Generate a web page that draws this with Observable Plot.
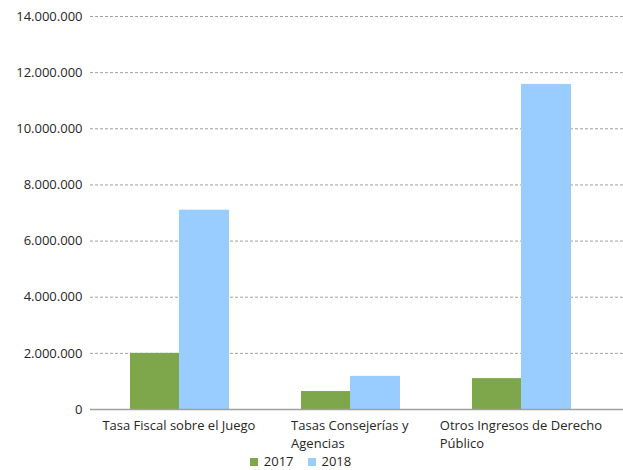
<!DOCTYPE html>
<html>
<head>
<meta charset="utf-8">
<script src="https://cdn.jsdelivr.net/npm/d3@7"></script>
<script src="https://cdn.jsdelivr.net/npm/@observablehq/plot@0.6"></script>
<style>
  html, body { margin: 0; padding: 0; background: #fff; }
  #wrap { width: 623px; font-family: "Open Sans", sans-serif; color: #262626; }
  .legend { display: flex; justify-content: center; gap: 14px; font-size: 13px; line-height: 15px; margin-top: 0px; padding-right: 22px; }
  .legend span.sw { display: inline-block; width: 8px; height: 8px; margin-right: 6px; vertical-align: 0px; }
</style>
</head>
<body>
<div id="wrap"></div>
<script>
const categories = ["Tasa Fiscal sobre el Juego", "Tasas Consejerías y Agencias", "Otros Ingresos de Derecho Público"];
const categoryLabels = ["Tasa Fiscal sobre el Juego", "Tasas Consejerías y\nAgencias", "Otros Ingresos de Derecho\nPúblico"];
const years = ["2017", "2018"];
const values2017 = [2000000, 640000, 1100000];
const values2018 = [7100000, 1180000, 11580000];
const yTicks = [0, 2000000, 4000000, 6000000, 8000000, 10000000, 12000000, 14000000];
const colors = ["#7ea64b", "#99ccff"];

const data = categories.flatMap((c, i) => [
  {category: c, year: "2017", value: values2017[i]},
  {category: c, year: "2018", value: values2018[i]}
]);

const fmt = d3.formatLocale({decimal: ",", thousands: ".", grouping: [3], currency: ["", ""]}).format(",.0f");

const chart = Plot.plot({
  width: 623,
  height: 454,
  marginLeft: 90,
  marginRight: 0,
  marginTop: 16,
  marginBottom: 45,
  style: {fontFamily: "'Open Sans', sans-serif", fontSize: "13px", color: "#262626", background: "#fff"},
  x: {domain: categories, padding: 0, insetLeft: 3, insetRight: 17},
  y: {domain: [0, 14000000], ticks: yTicks, tickFormat: fmt, tickSize: 0, tickPadding: 8, label: null},
  color: {domain: years, range: colors},
  marks: [
    Plot.ruleY(yTicks.slice(1), {stroke: "#a0a0a0", strokeDasharray: "3,2"}),
    Plot.barY(data, {filter: d => d.year === "2017", x: "category", y: "value", fill: "year", insetLeft: 37, insetRight: 85}),
    Plot.barY(data, {filter: d => d.year === "2018", x: "category", y: "value", fill: "year", insetLeft: 86, insetRight: 35}),
    Plot.ruleY([0], {stroke: "#a0a0a0", strokeWidth: 1.5}),
    Plot.axisX({tickSize: 0, tickPadding: 8, lineHeight: 1.38, label: null,
                tickFormat: d => categoryLabels[categories.indexOf(d)]})
  ]
});

const wrap = document.getElementById("wrap");
wrap.appendChild(chart);

// left-align lines inside each centered category label block
chart.querySelectorAll('g[aria-label="x-axis tick label"] text').forEach(t => {
  const w = t.getBBox().width;
  t.setAttribute("text-anchor", "start");
  const spans = t.querySelectorAll("tspan");
  if (spans.length) spans.forEach(s => s.setAttribute("x", -w / 2));
  else t.setAttribute("x", -w / 2);
});

const legend = document.createElement("div");
legend.className = "legend";
years.forEach((y, i) => {
  const item = document.createElement("div");
  item.innerHTML = `<span class="sw" style="background:${colors[i]}"></span>${y}`;
  legend.appendChild(item);
});
wrap.appendChild(legend);
</script>
</body>
</html>
